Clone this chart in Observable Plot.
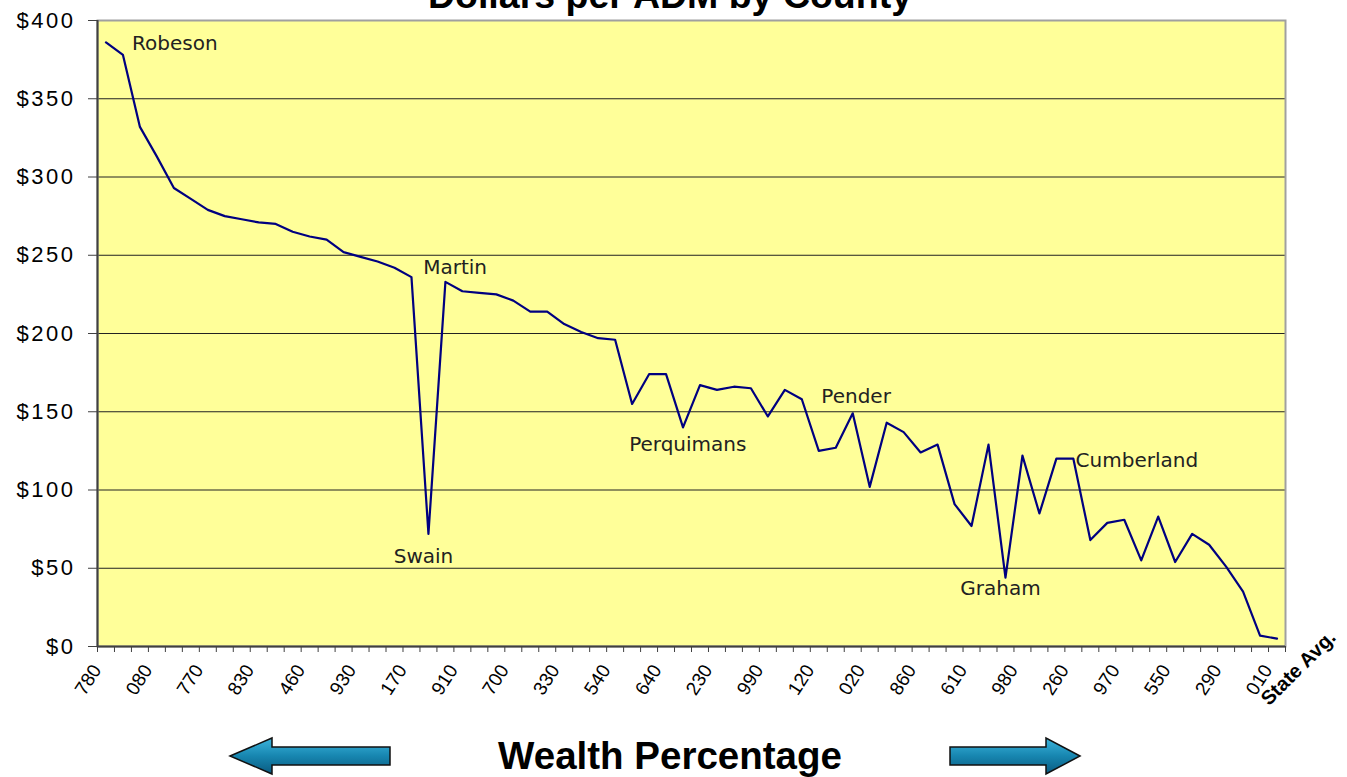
<!DOCTYPE html>
<html><head><meta charset="utf-8">
<script src="https://cdn.jsdelivr.net/npm/d3@7"></script>
<script src="https://cdn.jsdelivr.net/npm/@observablehq/plot@0.6"></script>
<style>
body{margin:0;background:#fff;}
#wrap{position:relative;width:1347px;height:777px;overflow:hidden;}
#overlay{position:absolute;left:0;top:0;pointer-events:none;}
#chart g[aria-label="y-axis tick label"] text{letter-spacing:2.5px;}
</style></head><body>
<div id="wrap"><div id="chart"></div>
<svg id="overlay" width="1347" height="777" xmlns="http://www.w3.org/2000/svg">
  <defs>
    <linearGradient id="ag" x1="0" y1="0" x2="0" y2="1">
      <stop offset="0" stop-color="#3cb4dc"/>
      <stop offset="0.5" stop-color="#1786b0"/>
      <stop offset="1" stop-color="#0a5a80"/>
    </linearGradient>
  </defs>
  <text x="670" y="8" text-anchor="middle" font-family="'Liberation Sans', Arial, sans-serif" font-weight="bold" font-size="37.5" fill="#000">Dollars per ADM by County</text>
  <text x="670" y="769" text-anchor="middle" font-family="'Liberation Sans', Arial, sans-serif" font-weight="bold" font-size="38.5" fill="#000">Wealth Percentage</text>
  <path d="M230,756 L272,738 L272,747 L390,747 L390,765 L272,765 L272,774 Z" fill="url(#ag)" stroke="#111" stroke-width="1.5"/>
  <path d="M1080,756 L1046,738 L1046,747 L950,747 L950,765 L1046,765 L1046,774 Z" fill="url(#ag)" stroke="#111" stroke-width="1.5"/>
</svg>
</div>
<script>
// Category tick labels (shown on every third county)
const tickLabels = ["780","080","770","830","460","930","170","910","700","330","540","640","230","990","120","020","860","610","980","260","970","550","290","010"];
const endLabel = "State Avg.";
// Dollars per ADM, one value per county (70 categories)
const dollars = [386,378,332,313,293,286,279,275,273,271,
                 270,265,262,260,252,249,246,242,236,72,
                 233,227,226,225,221,214,214,206,201,197,
                 196,155,174,174,140,167,164,166,165,147,
                 164,158,125,127,149,102,143,137,124,129,
                 91,77,129,44,122,85,120,120,68,79,
                 81,55,83,54,72,65,51,35,7,5];
const yTicks = [0,50,100,150,200,250,300,350,400];
// Annotations (position in category index / dollar units)
const annNames = ["Robeson","Martin","Swain","Perquimans","Pender","Cumberland","Graham"];
const annX = [4.06,20.57,18.71,34.28,44.2,60.74,52.71];
const annY = [385.4,242.3,57.7,129.2,159.9,119.1,37.3];

const data = dollars.map((v,i)=>({i, v}));
const n = dollars.length;
const bounds = d3.range(n+1).map(k=>k-0.5);
const labelIdx = tickLabels.map((t,k)=>k*3);
const ann = annNames.map((name,k)=>({name, x:annX[k], y:annY[k]}));

const chart = Plot.plot({
  width: 1347, height: 777,
  marginLeft: 97, marginRight: 62, marginTop: 20, marginBottom: 131,
  x: {type:"linear", domain:[-0.5, n-0.5]},
  y: {domain:[0,400]},
  style: {background:"transparent", fontFamily:"'Liberation Sans', Arial, sans-serif", color:"#000"},
  marks: [
    Plot.frame({fill:"#FFFF99"}),
    Plot.gridY(yTicks.filter(t=>t>0 && t<400), {stroke:"#222", strokeOpacity:1, strokeWidth:1}),
    Plot.frame({stroke:"#a0a0a0", strokeWidth:2}),
    Plot.ruleX([-0.5], {stroke:"#404040", strokeWidth:2}),
    Plot.ruleY([0], {stroke:"#404040", strokeWidth:2}),
    Plot.axisY(yTicks, {tickSize:9, tickPadding:13, tickFormat:d=>"$"+d, fontSize:22, stroke:"#404040", label:null}),
    Plot.axisX(bounds, {tickSize:6, tickFormat:()=>"", stroke:"#404040", label:null}),
    Plot.axisX(labelIdx, {tickSize:0, tickPadding:20, tickRotate:-57, dx:-9, tickFormat:i=>tickLabels[i/3], fontSize:19, label:null}),
    Plot.text([{x:n-1, y:0}], {x:"x", y:"y", text:()=>endLabel, rotate:-45, textAnchor:"end", lineAnchor:"bottom", dx:60, dy:-8, fontSize:20, fontWeight:"bold", fill:"#000"}),
    Plot.lineY(data, {x:"i", y:"v", stroke:"#000080", strokeWidth:2.2}),
    Plot.text(ann, {x:"x", y:"y", text:"name", fontSize:20, fontFamily:"'DejaVu Sans', sans-serif", fill:"#222"})
  ]
});
document.getElementById("chart").appendChild(chart);
</script>
</body></html>
